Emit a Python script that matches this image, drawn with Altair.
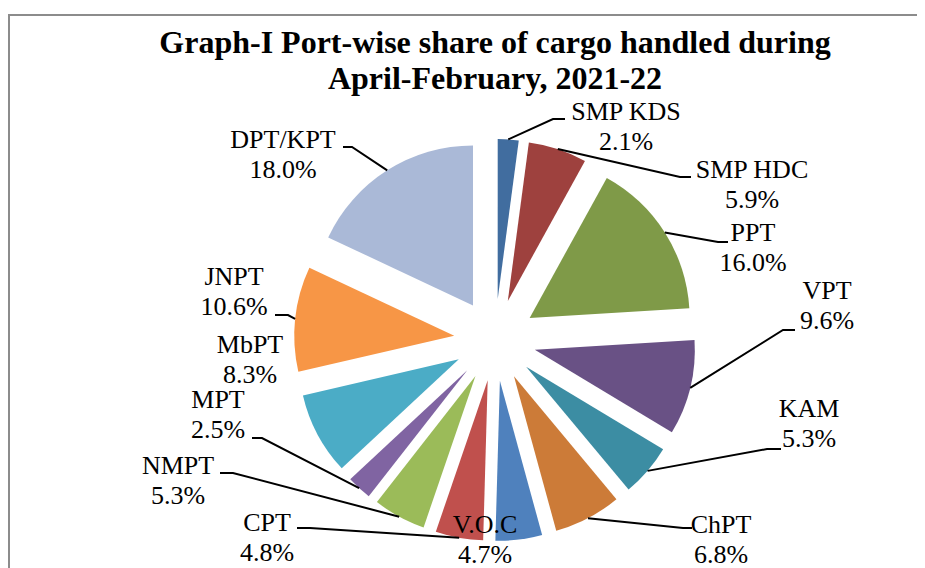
import altair as alt
import pandas as pd
import numpy as np

# ---------------- data ----------------
ports = ["SMP KDS", "SMP HDC", "PPT", "VPT", "KAM", "ChPT", "V.O.C",
         "CPT", "NMPT", "MPT", "MbPT", "JNPT", "DPT/KPT"]
shares = [2.1, 5.9, 16.0, 9.6, 5.3, 6.8, 4.7, 4.8, 5.3, 2.5, 8.3, 10.6, 18.0]
colors = ["#416D9F", "#9E413E", "#7F9A48", "#695185", "#3C8DA3", "#CC7B38",
          "#4F81BD", "#C0504D", "#9BBB59", "#8064A2", "#4BACC6", "#F79646",
          "#AAB9D7"]
title_lines = ["Graph-I Port-wise share of cargo handled during",
               "April-February, 2021-22"]

# ---------------- layout (pixels, relative to the pie centre) ----------------
W, H = 909, 600
CX, CY = 487, 332
R = 160
EXPLODE = 41
LINE_GAP = 30
label_dx = [131, 257, 258, 332, 314, 226, -10, -228, -317, -277, -245, -261, -212]
label_dy = [-228, -170, -107, -49, 69, 185, 185, 183, 126, 60, 5, -63, -200]
leader_elbow_x = [58, 185, 223, 288, 272, 188, None, -185, -262, -233, None, -207, -143]
leader_end_x = [70, 196, 233, 300, 286, 197, None, -198, -275, -243, None, -220, -152]
leader_y = [-221, -163, -98, -10, 109, 188, None, 188, 133, 98, None, -25, -193]

FONT = "Liberation Serif"

xs = alt.Scale(domain=[-CX, W - CX], range=[0, W])
ys = alt.Scale(domain=[-CY, H - CY], range=[0, H])

slices = pd.DataFrame({"port": ports, "share": shares, "idx": list(range(len(ports)))})

arcs = (
    alt.Chart(slices)
    .transform_joinaggregate(total="sum(share)")
    .transform_window(cum="sum(share)", sort=[alt.SortField("idx")], frame=[None, 0])
    .transform_calculate(f0="(datum.cum - datum.share) / datum.total")
    .transform_calculate(f1="datum.cum / datum.total")
    .transform_calculate(ex=f"{EXPLODE} * sin(PI * (datum.f0 + datum.f1))")
    .transform_calculate(ey=f"-{EXPLODE} * cos(PI * (datum.f0 + datum.f1))")
    .mark_arc(radius=R)
    .encode(
        theta=alt.Theta("f0:Q", scale=alt.Scale(domain=[0, 1], range=[0, 2 * np.pi]), stack=False),
        theta2="f1:Q",
        x=alt.X("ex:Q", scale=xs, axis=None),
        y=alt.Y("ey:Q", scale=ys, axis=None),
        color=alt.Color("port:N", scale=alt.Scale(domain=ports, range=colors), legend=None),
    )
)

# leader lines: start at the outer middle of each exploded slice
s = np.array(shares)
cum = np.cumsum(s)
mid = (cum - s / 2) / s.sum() * 2 * np.pi
rows = []
for i, p in enumerate(ports):
    if leader_y[i] is None:
        continue
    rows.append({"port": p, "step": 0, "x": (R + EXPLODE) * np.sin(mid[i]), "y": -(R + EXPLODE) * np.cos(mid[i])})
    rows.append({"port": p, "step": 1, "x": leader_elbow_x[i], "y": leader_y[i]})
    rows.append({"port": p, "step": 2, "x": leader_end_x[i], "y": leader_y[i]})
leaders_df = pd.DataFrame(rows)

leaders = alt.Chart(leaders_df).mark_line(color="black", strokeWidth=2).encode(
    x=alt.X("x:Q", scale=xs, axis=None),
    y=alt.Y("y:Q", scale=ys, axis=None),
    detail="port:N",
    order="step:Q",
)

labels_df = pd.DataFrame({
    "port": ports,
    "pct": [f"{v:.1f}%" for v in shares],
    "lx": label_dx,
    "ly": label_dy,
    "ly2": [v + LINE_GAP for v in label_dy],
})

names = alt.Chart(labels_df).mark_text(font=FONT, fontSize=26, color="black",
                                       align="center", baseline="middle").encode(
    x=alt.X("lx:Q", scale=xs, axis=None),
    y=alt.Y("ly:Q", scale=ys, axis=None),
    text="port:N",
)
pcts = alt.Chart(labels_df).mark_text(font=FONT, fontSize=26, color="black",
                                      align="center", baseline="middle").encode(
    x=alt.X("lx:Q", scale=xs, axis=None),
    y=alt.Y("ly2:Q", scale=ys, axis=None),
    text="pct:N",
)

one = pd.DataFrame({"a": [0]})
title1 = alt.Chart(one).mark_text(text=title_lines[0], font=FONT, fontSize=32, fontWeight="bold",
                                  color="black", align="center", baseline="alphabetic").encode(
    x=alt.value(487), y=alt.value(45))
title2 = alt.Chart(one).mark_text(text=title_lines[1], font=FONT, fontSize=32, fontWeight="bold",
                                  color="black", align="center", baseline="alphabetic").encode(
    x=alt.value(487), y=alt.value(81))

frame_left = alt.Chart(one).mark_rule(color="#8C8C8C", strokeWidth=2).encode(
    x=alt.value(1), y=alt.value(6), y2=alt.value(H))
frame_top = alt.Chart(one).mark_rule(color="#8C8C8C", strokeWidth=2).encode(
    x=alt.value(0), x2=alt.value(W), y=alt.value(7))

chart = (
    alt.layer(frame_left, frame_top, arcs, leaders, names, pcts, title1, title2)
    .properties(width=W, height=H, autosize=alt.AutoSizeParams(type="none"), padding=0,
                background="white")
    .configure_view(stroke=None)
)

chart.save("out.html", embed_options={"renderer": "svg", "actions": False})
